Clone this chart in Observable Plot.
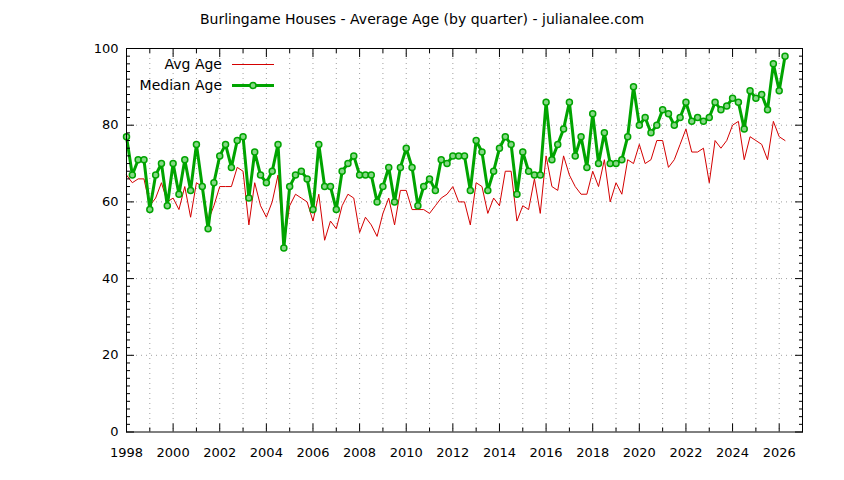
<!DOCTYPE html>
<html><head><meta charset="utf-8">
<script src="https://cdn.jsdelivr.net/npm/d3@7"></script>
<script src="https://cdn.jsdelivr.net/npm/@observablehq/plot@0.6"></script>
<style>
body{margin:0;background:#fff;font-family:"DejaVu Sans",sans-serif;}
#title{height:40px;width:844px;text-align:center;font-size:14px;line-height:14px;padding-top:12px;box-sizing:border-box;color:#000}
#chart svg{display:block}
</style></head><body>
<div id="title">Burlingame Houses - Average Age (by quarter) - julianalee.com</div>
<div id="chart"></div>
<script>
const startYear = 1998; // first quarter of 1998, one value per quarter
const avgAge = [67,65,66,66,59,61,65,60,61,58,64,56,65,64,55,59,64,64,64,69,68,54,65,59,56,60,67,49,
  59,62,61,60,55,62,50,55,53,59,62,61,52,56,54,51,57,61,54,63,63,58,58,58,57,59,61,62,64,60,
  60,54,65,64,57,61,59,68,68,55,59,58,66,57,72,64,63,72,67,64,62,62,68,64,71,60,65,62,71,
  70,75,70,71,76,76,69,71,75,79,73,73,74,65,76,74,76,80,81,71,77,76,75,71,81,77,76];
const medianAge = [77,67,71,71,58,67,70,59,70,62,71,63,75,64,53,65,72,75,69,76,77,61,73,67,65,68,75,48,
  64,67,68,66,58,75,64,64,58,68,70,72,67,67,67,60,64,69,60,69,74,69,59,64,66,63,71,70,72,72,
  72,63,76,73,63,68,74,77,75,62,73,68,67,67,86,71,75,79,86,72,77,69,83,70,78,70,70,71,77,
  90,80,82,78,80,84,83,80,82,86,81,82,81,82,86,84,85,87,86,79,89,87,88,84,96,89,98];
const xMajorTicks = d3.range(1998, 2027, 2);
const xMinorTicks = d3.range(1999, 2027, 2);
const yMajorTicks = [0, 20, 40, 60, 80, 100];
const yMinorTicks = d3.range(2, 100, 2).filter(v => v % 20 !== 0);
const seriesNames = ["Avg Age", "Median Age"];

const data = avgAge.map((v, i) => ({t: startYear + i / 4, avg: v, med: medianAge[i]}));
const red = "#d40000", green = "#00a400";
const gridStyle = {stroke: "#a0a0a0", strokeOpacity: 1, strokeDasharray: "1,4", strokeWidth: 1};

const chart = Plot.plot({
  width: 844, height: 440,
  marginLeft: 126, marginRight: 42, marginTop: 8, marginBottom: 48.5,
  style: {fontFamily: "DejaVu Sans", fontSize: "13px", background: "#fff", color: "#000"},
  x: {domain: [1998, 2027], label: null},
  y: {domain: [0, 100], label: null},
  marks: [
    Plot.gridX(d3.range(1999, 2027), gridStyle),
    Plot.gridY([20, 40, 60, 80], gridStyle),
    Plot.line(data, {x: "t", y: "avg", stroke: red, strokeWidth: 1}),
    Plot.line(data, {x: "t", y: "med", stroke: green, strokeWidth: 3}),
    Plot.dot(data, {x: "t", y: "med", r: 3, stroke: green, fill: "#86d886", strokeWidth: 1.5}),
    Plot.frame({stroke: "#000", strokeWidth: 1}),
    Plot.axisX(xMajorTicks, {anchor: "bottom", tickSize: -8, fill: "none", label: null}),
    Plot.axisX(xMinorTicks, {anchor: "bottom", tickSize: -4, fill: "none", label: null}),
    Plot.axisX(xMajorTicks, {anchor: "top", tickSize: -8, fill: "none", label: null}),
    Plot.axisX(xMinorTicks, {anchor: "top", tickSize: -4, fill: "none", label: null}),
    Plot.axisX(xMajorTicks, {anchor: "bottom", tickSize: 0, tickPadding: 16, tickFormat: d => String(d), label: null}),
    Plot.axisY(yMajorTicks, {anchor: "left", tickSize: -8, fill: "none", label: null}),
    Plot.axisY(yMinorTicks, {anchor: "left", tickSize: -4, fill: "none", label: null}),
    Plot.axisY(yMajorTicks, {anchor: "right", tickSize: -8, fill: "none", label: null}),
    Plot.axisY(yMinorTicks, {anchor: "right", tickSize: -4, fill: "none", label: null}),
    Plot.axisY(yMajorTicks, {anchor: "left", tickSize: 0, tickPadding: 8, tickFormat: d => String(d), label: null})
  ]
});
document.getElementById("chart").appendChild(chart);

// legend (inside the plot frame, top-left, gnuplot style)
const svg = d3.select(chart);
const lg = svg.append("g").attr("font-family", "DejaVu Sans").attr("font-size", 14);
const rows = [{name: seriesNames[0], color: red, w: 1, pt: false, cy: 24.5},
              {name: seriesNames[1], color: green, w: 3, pt: true, cy: 45.5}];
rows.forEach(r => {
  lg.append("text").attr("x", 222).attr("y", r.cy).attr("dy", "0.35em")
    .attr("text-anchor", "end").attr("fill", "#000").text(r.name);
  lg.append("line").attr("x1", 232).attr("x2", 274).attr("y1", r.cy).attr("y2", r.cy)
    .attr("stroke", r.color).attr("stroke-width", r.w);
  if (r.pt) lg.append("circle").attr("cx", 253).attr("cy", r.cy).attr("r", 3)
    .attr("stroke", r.color).attr("fill", "#86d886").attr("stroke-width", 1.5);
});
</script>
</body></html>
